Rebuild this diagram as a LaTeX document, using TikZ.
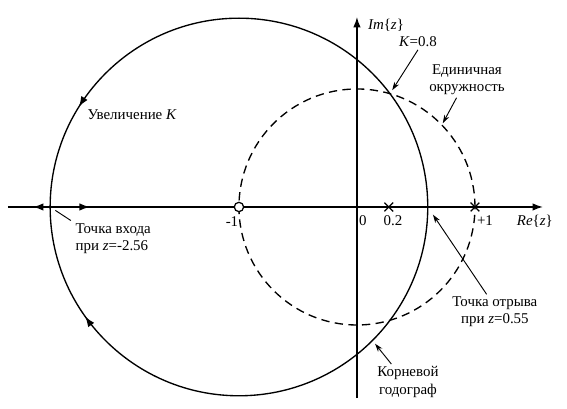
\documentclass[tikz,border=0pt]{standalone}
\usepackage{fontspec}
\setmainfont{Liberation Serif}
\usetikzlibrary{calc,arrows.meta,decorations.markings,shapes.misc}
\tikzstyle{legende} = [font=\fontsize{7.2}{8.2}\selectfont, align=center, inner sep=1pt]
\tikzstyle{graduation} = [font=\fontsize{7.2}{8.2}\selectfont, inner sep=1pt]
\tikzstyle{fleche} = [-{Stealth[length=4pt,width=2.6pt]}, line width=0.45pt]
\tikzstyle{pointille} = [dash pattern=on 4pt off 2.6pt, line width=0.65pt]
\tikzstyle{zero} = [circle, draw, fill=white, minimum size=4.5pt, inner sep=0pt, line width=0.6pt]
\tikzstyle{pole} = [cross out, draw, minimum size=3.6pt, inner sep=0pt, line width=0.6pt]
\tikzset{sens/.style={postaction={decorate,decoration={markings,
    mark=at position #1 with {\arrow{Latex[length=5pt,width=3.6pt]}}}}}}
\tikzset{contresens/.style={postaction={decorate,decoration={markings,
    mark=at position #1 with {\arrowreversed{Latex[length=5pt,width=3.6pt]}}}}}}

\begin{document}
\begin{tikzpicture}[x=2cm,y=2cm,line width=0.65pt]
                \useasboundingbox (-3.025,-1.712) rectangle (1.780,1.754);

                % cercle unite et lieu des racines
                \draw[pointille] (0,0) circle[radius=1];
                \draw[sens=0.822] (0.6,0) arc[start angle=0, end angle=180, radius=1.6];
                \draw[sens=0.803] (0.6,0) arc[start angle=0, end angle=-180, radius=1.6];

                % axes
                \coordinate (reO) at (-2.958,0);
                \coordinate (reE) at (1.576,0);
                \coordinate (imS) at (0,-1.619);
                \coordinate (imN) at (0,1.610);
                \draw[-{Latex[length=5pt,width=3.6pt]}, contresens=0.047, sens=0.153] (reO) -- (reE);
                \draw[-{Latex[length=5pt,width=3.6pt]}] (imS) -- (imN);

                \coordinate (kcross) at (0.28,0.96);
                \coordinate (ucirc) at (44:1);
                \coordinate (breakin) at (-2.6,0);
                \coordinate (breakaway) at (0.6,0);
                \coordinate (locpt) at ($(-1,0)+(-45:1.6)$);

                % zero et poles
                \node [zero] (z1) at (-1,0) {};
                \node [pole] (p1) at (0.27,0) {};
                \node [pole] (p2) at (1,0) {};

                \node [graduation] at (-1.059,-0.127) {-1};
                \node [graduation] at (0.051,-0.119) {0};
                \node [graduation] at (0.305,-0.119) {0.2};
                \node [graduation] at (1.085,-0.119) {+1};
                \node [graduation] at (1.508,-0.119) {\textit{Re}\{\textit{z}\}};
                \node [graduation] at (0.246,1.542) {\textit{Im}\{\textit{z}\}};

                % legendes
                \node [legende] (klbl) at (0.517,1.398) {\textit{K}=0.8};
                \node [legende] (unitlbl) at (0.932,1.076) {Единичная\\окружность};
                \node [legende, anchor=west] (inclbl) at (-2.305,0.78) {Увеличение \textit{K}};
                \node [legende, anchor=west, align=left] (inlbl) at (-2.407,-0.265) {Точка входа\\при \textit{z}=-2.56};
                \node [legende] (brklbl) at (1.169,-0.89) {Точка отрыва\\при \textit{z}=0.55};
                \node [legende] (loclbl) at (0.432,-1.483) {Корневой\\годограф};

                \draw[fleche, shorten >=2pt] (klbl.south) -- (kcross);
                \draw[fleche, shorten >=1pt] ([xshift=-5pt]unitlbl.south) -- (ucirc);
                \draw[line width=0.45pt, shorten <=3pt] (breakin) -- ([xshift=-1pt]inlbl.north west);
                \draw[fleche, shorten >=4.5pt] ([xshift=-4pt]brklbl.north) -- (breakaway);
                \draw[fleche, shorten >=2pt] ([xshift=-8pt]loclbl.north) -- (locpt);
            \end{tikzpicture}
\end{document}
